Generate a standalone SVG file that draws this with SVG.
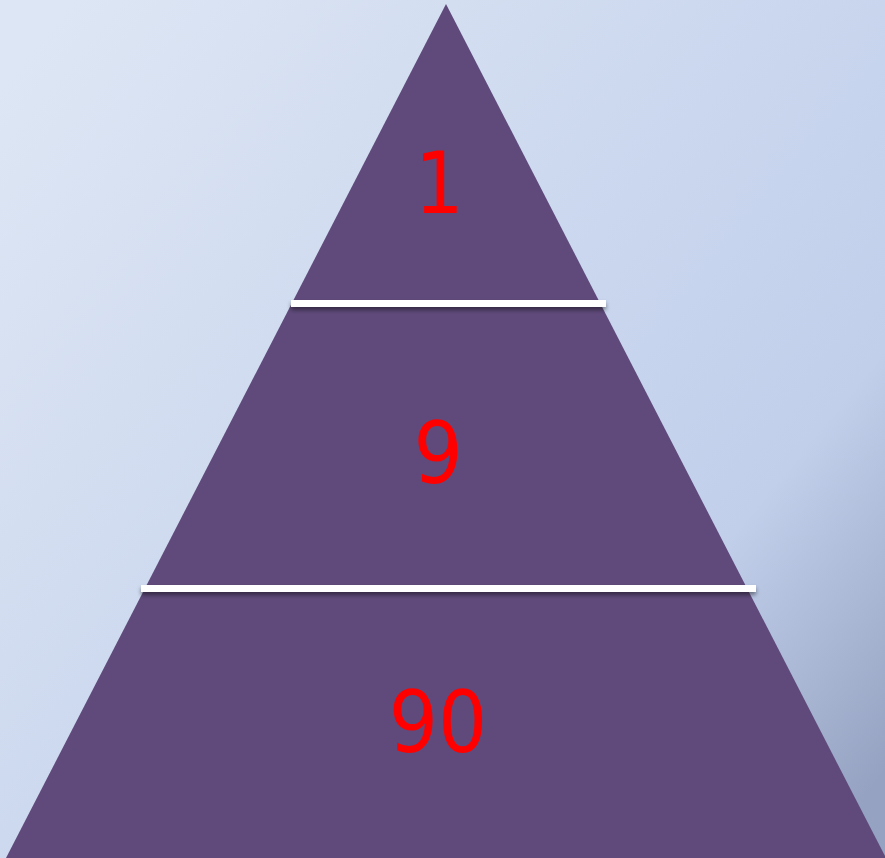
<svg xmlns="http://www.w3.org/2000/svg" width="885" height="858" viewBox="0 0 885 858">
<defs>
<linearGradient id="bg" x1="0" y1="0.1" x2="1" y2="0.9">
<stop offset="0" stop-color="#dde6f4"/>
<stop offset="0.76" stop-color="#c1cfeb"/>
<stop offset="1" stop-color="#95a2c1"/>
</linearGradient>
<filter id="sh" x="-5%" y="-100%" width="110%" height="400%">
<feGaussianBlur in="SourceAlpha" stdDeviation="2"/>
<feOffset dx="0" dy="3" result="b"/>
<feFlood flood-color="#000" flood-opacity="0.45"/>
<feComposite in2="b" operator="in"/>
<feMerge><feMergeNode/><feMergeNode in="SourceGraphic"/></feMerge>
</filter>
</defs>
<style>
.lbl{font-family:"DejaVu Sans Condensed","DejaVu Sans",sans-serif;font-size:86px;fill:#ff0000;text-anchor:middle}
.bar{fill:#ffffff;filter:url(#sh)}
</style>
<rect width="885" height="858" fill="url(#bg)"/>
<g id="pyramid">
<polygon points="446,4 6,858 886,858" fill="#5f4a7b"/>
</g>
<g id="connectors">
<rect class="bar" x="291" y="300" width="315" height="7"/>
<rect class="bar" x="141" y="585" width="615" height="7"/>
</g>
<g id="tier1"><text class="lbl" x="439" y="213">1</text></g>
<g id="tier2"><text class="lbl" x="438" y="483">9</text></g>
<g id="tier3"><text class="lbl" x="438" y="752">90</text></g>
</svg>
